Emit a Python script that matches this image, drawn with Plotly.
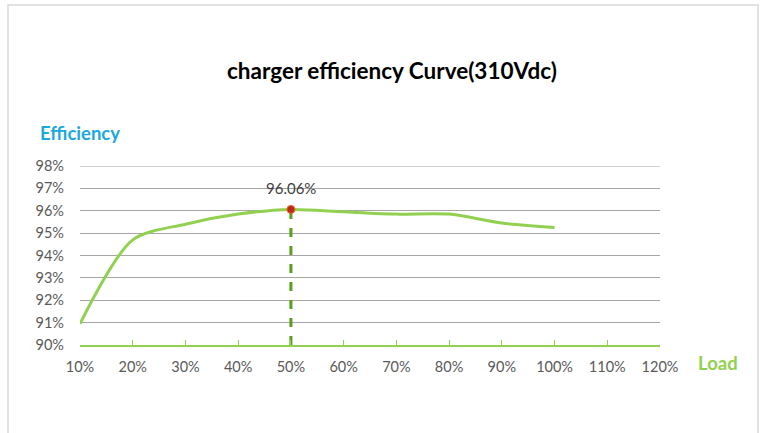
import plotly.graph_objects as go

load_pct = [10, 20, 30, 40, 50, 60, 70, 80, 90, 100]
efficiency = [90.95, 94.7, 95.4, 95.85, 96.06, 95.95, 95.85, 95.85, 95.45, 95.25]
peak_load = 50
peak_eff = 96.06
peak_label = "96.06%"
title_text = "charger efficiency Curve(310Vdc)"
y_title = "Efficiency"
x_title = "Load"
y_ticks = [90, 91, 92, 93, 94, 95, 96, 97, 98]
x_ticks = [10, 20, 30, 40, 50, 60, 70, 80, 90, 100, 110, 120]

FONT = "Lato"
GREEN = "#92d050"

fig = go.Figure()
fig.add_trace(go.Scatter(
    x=load_pct, y=efficiency, mode="lines",
    line=dict(color=GREEN, width=3, shape="spline", smoothing=0.8),
    hoverinfo="skip", showlegend=False,
))
fig.add_trace(go.Scatter(
    x=[peak_load, peak_load], y=[y_ticks[0], peak_eff], mode="lines",
    line=dict(color="#5a9e1a", width=3, dash="dash"),
    showlegend=False,
))
fig.add_trace(go.Scatter(
    x=[peak_load], y=[peak_eff], mode="markers",
    marker=dict(color="#c0281c", size=8, line=dict(color="#e07020", width=1)),
    showlegend=False,
))

fig.update_layout(
    width=761, height=433,
    margin=dict(l=80, r=101, t=166, b=88),
    paper_bgcolor="white", plot_bgcolor="white",
    font=dict(family=FONT, color="#595959", size=14),
    xaxis=dict(
        range=[x_ticks[0], x_ticks[-1]], tickvals=x_ticks, ticktext=[f"{v}%" for v in x_ticks],
        showgrid=False, zeroline=False,
        showline=True, linecolor=GREEN, linewidth=1.5,
        ticks="inside", ticklen=5, tickcolor=GREEN,
        tickfont=dict(family=FONT, size=14.5, color="#595959"),
        ticklabelstandoff=8,
    ),
    yaxis=dict(
        range=[y_ticks[0], y_ticks[-1]], tickvals=y_ticks, ticktext=[f"{v}%" for v in y_ticks],
        showgrid=True, gridcolor="#a6a6a6", gridwidth=1,
        zeroline=False, showline=False,
        tickfont=dict(family=FONT, size=14.5, color="#595959"),
        ticklabelstandoff=15,
    ),
    annotations=[
        dict(text=peak_label, xref="x", yref="y", x=peak_load, y=peak_eff,
             xanchor="center", yanchor="bottom", yshift=10, showarrow=False,
             font=dict(family=FONT, size=15, color="#404040")),
        dict(text=f"<b>{title_text}</b>", xref="paper", yref="paper",
             x=0.538, y=1.536, xanchor="center", yanchor="middle", showarrow=False,
             font=dict(family=FONT, size=22.5, color="#000000")),
        dict(text=f"<b>{y_title}</b>", xref="paper", yref="paper",
             x=0.0, y=1.184, xanchor="center", yanchor="middle", showarrow=False,
             font=dict(family=FONT, size=18.5, color="#1aa8de")),
        dict(text=f"<b>{x_title}</b>", xref="paper", yref="paper",
             x=1.1, y=-0.1006, xanchor="center", yanchor="middle", showarrow=False,
             font=dict(family=FONT, size=18.5, color=GREEN)),
    ],
    shapes=[
        dict(type="rect", xref="paper", yref="paper",
             x0=-0.1241, x1=1.169, y0=-0.6, y1=1.899,
             line=dict(color="#d9d9d9", width=1.5), layer="below"),
        dict(type="line", xref="paper", yref="y",
             x0=0, x1=1, y0=y_ticks[-1], y1=y_ticks[-1],
             line=dict(color="#a6a6a6", width=1), layer="below"),
    ],
)

fig.write_html("out.html", config={"displayModeBar": False},
               post_script="document.body.style.margin='0';")
